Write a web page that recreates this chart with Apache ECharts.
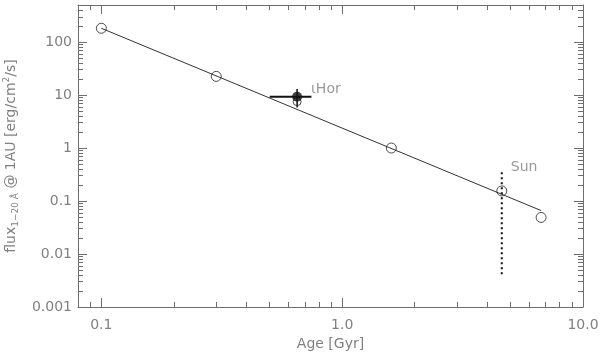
<!DOCTYPE html>
<html>
<head>
<meta charset="utf-8">
<script src="https://cdn.jsdelivr.net/npm/echarts@6/dist/echarts.min.js"></script>
<style>
  html, body { margin: 0; padding: 0; background: #fff; }
  #chart { width: 600px; height: 355px; }
</style>
</head>
<body>
<div id="chart"></div>
<script>
// open circles: age [Gyr], flux 1-20 A @ 1AU
var starAge = [0.1, 0.3, 1.6, 4.6, 6.7];
var starFlux = [182, 22.5, 1.0, 0.155, 0.049];

// power-law fit, drawn between its end points
var fitAge = [0.1, 6.7];
var fitFlux = [182, 0.066];

// iota Hor with error bars
var horAge = 0.65;
var horFlux = 9.3;
var horAgeRange = [0.5, 0.745];
var horFluxRange = [5.8, 13];
var horModelFlux = 7.5;

// Sun variability range
var sunAge = 4.6;
var sunRange = [0.35, 0.0038];

// axes
var xMin = 0.08, xMax = 10;
var yMin = 0.001, yMax = 500;
var xMajor = [0.1, 1, 10];
var xMajorText = ['0.1', '1.0', '10.0'];
var xMinor = [0.09, 0.2, 0.3, 0.4, 0.5, 0.6, 0.7, 0.8, 0.9, 2, 3, 4, 5, 6, 7, 8, 9];
var yMajor = [0.001, 0.01, 0.1, 1, 10, 100];
var yMajorText = ['0.001', '0.01', '0.1', '1', '10', '100'];
var yMinor = [0.002, 0.003, 0.004, 0.005, 0.006, 0.007, 0.008, 0.009,
              0.02, 0.03, 0.04, 0.05, 0.06, 0.07, 0.08, 0.09,
              0.2, 0.3, 0.4, 0.5, 0.6, 0.7, 0.8, 0.9,
              2, 3, 4, 5, 6, 7, 8, 9,
              20, 30, 40, 50, 60, 70, 80, 90,
              200, 300, 400];

(function() {
  var L = Math.log10;
  var axisGray = '#6e6e6e';
  var textGray = '#808080';
  var font = 'DejaVu Sans';

  function lg(arr) { return arr.map(function(v) { return L(v); }); }
  function fmt(vals, texts) {
    return function(v) {
      for (var i = 0; i < vals.length; i++) {
        if (Math.abs(L(vals[i]) - v) < 1e-6) return texts[i];
      }
      return '';
    };
  }

  function xAxis(pos, ticks, len, line, labels, name) {
    return {
      type: 'value', position: pos, min: L(xMin), max: L(xMax),
      name: name || '', nameLocation: 'middle', nameGap: 30,
      nameTextStyle: { color: textGray, fontSize: 14, fontFamily: font },
      axisLine: { show: line, onZero: false, lineStyle: { color: axisGray, width: 1 } },
      axisTick: { show: true, inside: true, length: len, customValues: lg(ticks),
        lineStyle: { color: axisGray, width: 1 } },
      axisLabel: labels ? { show: true, customValues: lg(xMajor), formatter: fmt(xMajor, xMajorText),
        color: textGray, fontSize: 14, fontFamily: font, margin: 11 } : { show: false },
      splitLine: { show: false }
    };
  }
  function yAxis(pos, ticks, len, line, labels, name) {
    return {
      type: 'value', position: pos, min: L(yMin), max: L(yMax),
      name: name || '', nameLocation: 'middle', nameGap: 52,
      nameTextStyle: {
        color: textGray, fontSize: 14, fontFamily: font, lineHeight: 20,
        rich: {
          sub: { fontSize: 9, color: textGray, fontFamily: font, padding: [9, 0, 0, 0] },
          sup: { fontSize: 9, color: textGray, fontFamily: font, padding: [0, 0, 9, 0] }
        }
      },
      axisLine: { show: line, onZero: false, lineStyle: { color: axisGray, width: 1 } },
      axisTick: { show: true, inside: true, length: len, customValues: lg(ticks),
        lineStyle: { color: axisGray, width: 1 } },
      axisLabel: labels ? { show: true, customValues: lg(yMajor), formatter: fmt(yMajor, yMajorText),
        color: textGray, fontSize: 14, fontFamily: font, margin: 6 } : { show: false },
      splitLine: { show: false }
    };
  }

  var chart = echarts.init(document.getElementById('chart'), null, { renderer: 'canvas' });

  function pts(xs, ys) {
    return xs.map(function(x, i) { return [L(x), L(ys[i])]; });
  }

  chart.setOption({
    animation: false,
    backgroundColor: '#fff',
    grid: { left: 78, right: 17, top: 5, bottom: 48, outerBoundsMode: 'none', containLabel: false },
    xAxis: [
      xAxis('bottom', xMajor, 9, true, true, 'Age [Gyr]'),
      xAxis('bottom', xMinor, 5, false, false),
      xAxis('top', xMajor, 9, true, false),
      xAxis('top', xMinor, 5, false, false)
    ],
    yAxis: [
      yAxis('left', yMajor, 9, true, true,
        'flux{sub|1−20 Å} @ 1AU [erg/cm{sup|2}/s]'),
      yAxis('left', yMinor, 5, false, false),
      yAxis('right', yMajor, 9, true, false),
      yAxis('right', yMinor, 5, false, false)
    ],
    series: [
      {
        type: 'line', data: pts(fitAge, fitFlux), symbol: 'none',
        lineStyle: { color: '#333', width: 1 }, z: 2
      },
      {
        type: 'scatter', data: pts(starAge, starFlux), symbol: 'circle', symbolSize: 10,
        itemStyle: { color: 'rgba(0,0,0,0)', borderColor: '#222', borderWidth: 1 }, z: 3
      },
      {
        type: 'line', symbol: 'none',
        data: [[L(sunAge), L(sunRange[0])], [L(sunAge), L(sunRange[1])]],
        lineStyle: { color: '#111', width: 2, type: [2, 3] }, z: 2
      },
      {
        type: 'scatter', symbolSize: 0, silent: true,
        data: [[L(sunAge), L(sunRange[0])]],
        label: { show: true, formatter: 'Sun', position: 'right', offset: [4, -5],
          color: textGray, fontSize: 14, fontFamily: font }
      },
      {
        type: 'line', symbol: 'none',
        data: [[L(horAgeRange[0]), L(horFlux)], [L(horAgeRange[1]), L(horFlux)]],
        lineStyle: { color: '#111', width: 2 }, z: 4
      },
      {
        type: 'line', symbol: 'none',
        data: [[L(horAge), L(horFluxRange[0])], [L(horAge), L(horFluxRange[1])]],
        lineStyle: { color: '#111', width: 1.5 }, z: 4
      },
      {
        type: 'scatter', data: [[L(horAge), L(horModelFlux)]], symbol: 'circle', symbolSize: 8,
        itemStyle: { color: 'rgba(0,0,0,0)', borderColor: '#222', borderWidth: 1 }, z: 4
      },
      {
        type: 'scatter', data: [[L(horAge), L(horFlux)]], symbol: 'circle', symbolSize: 10,
        itemStyle: { color: '#111' }, z: 5,
        label: { show: true, formatter: 'ιHor', position: 'right', offset: [4, -7],
          color: textGray, fontSize: 14, fontFamily: font }
      }
    ]
  });

  window.addEventListener('resize', function() { chart.resize(); });
})();
</script>
</body>
</html>
